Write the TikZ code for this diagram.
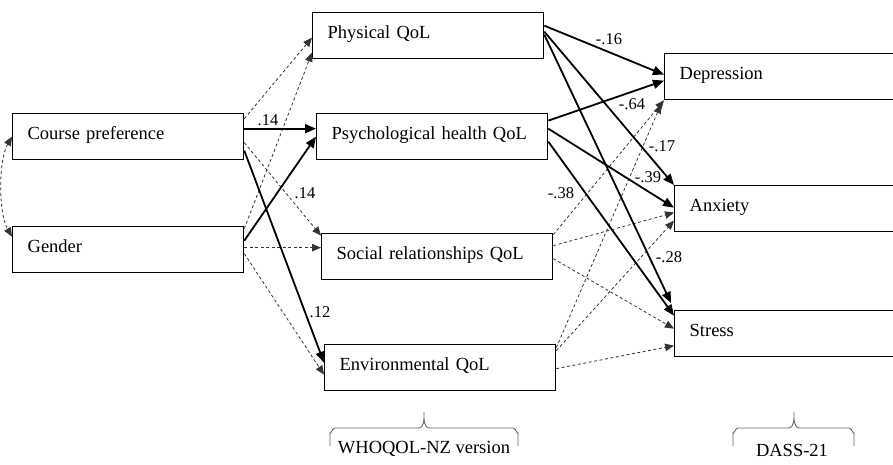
\documentclass[tikz,border=0pt]{standalone}
\usepackage{fontspec}
\setmainfont{Liberation Serif}
\usetikzlibrary{arrows.meta}
\begin{document}
\begin{tikzpicture}[x=1pt, y=-1pt,
	box/.style={draw, line width=1.3pt, rectangle, anchor=north west, minimum height=46pt, text width=#1, align=left, inner xsep=15pt, inner ysep=0pt, text height=13pt, text depth=8pt, font=\fontsize{18.5}{22}\selectfont},
	num/.style={inner sep=0pt, font=\fontsize{16.5}{18}\selectfont},
	effect/.style={line width=1.8pt, -{Triangle[length=11pt, width=9pt]}},
	nonsig/.style={draw=black!80, line width=0.8pt, dash pattern=on 3pt off 2.5pt, -{Triangle[length=9pt, width=7.5pt]}},
	bracket/.style={draw=black!60, line width=0.9pt}]
	\useasboundingbox (0, 0) rectangle (893, 464);
	\clip (0, 0) rectangle (893, 464);
	\node[box=201pt] (cp) at (12, 113) {Course preference};
	\node[box=201pt] (gender) at (12, 226) {Gender};
	\node[box=201pt] (phys) at (312, 12) {Physical QoL};
	\node[box=201pt] (psych) at (316, 113) {Psychological health QoL};
	\node[box=201pt] (social) at (321, 233) {Social relationships QoL};
	\node[box=201pt] (env) at (324, 344) {Environmental QoL};
	\node[box=230pt] (dep) at (664, 53) {Depression};
	\node[box=220pt] (anx) at (674, 185) {Anxiety};
	\node[box=220pt] (stress) at (674, 310) {Stress};
	\draw[nonsig, {Triangle[length=9pt, width=7.5pt]}-{Triangle[length=9pt, width=7.5pt]}] (cp.west) to[out=240, in=120, looseness=0.7] ([yshift=13pt]gender.west);
	\draw[nonsig] ([yshift=18pt]cp.east) -- ([yshift=-2pt]phys.west);
	\draw[nonsig] ([yshift=21pt]gender.east) -- ([yshift=-17pt]phys.west);
	\draw[nonsig] ([yshift=-6pt]cp.east) -- ([yshift=21pt]social.west);
	\draw[nonsig] ([yshift=2pt]gender.east) -- ([yshift=9pt]social.west);
	\draw[nonsig] ([yshift=-4pt]gender.east) -- ([yshift=-7pt]env.west);
	\draw[nonsig] ([yshift=22pt]social.east) -- (dep.south west);
	\draw[nonsig] ([yshift=11pt]social.east) -- ([yshift=-4pt]anx.west);
	\draw[nonsig] ([yshift=-2pt]social.east) -- ([yshift=5pt]stress.west);
	\draw[nonsig] ([yshift=20pt]env.east) -- ([xshift=-3pt, yshift=-4pt]dep.south west);
	\draw[nonsig] ([yshift=17pt]env.east) -- ([yshift=-12pt]anx.west);
	\draw[nonsig] ([yshift=-1pt]env.east) -- ([yshift=-12pt]stress.west);
	\draw[effect] ([yshift=8pt]cp.east) -- ([yshift=8pt]psych.west);
	\draw[effect] ([yshift=9pt]gender.east) -- (psych.west);
	\draw[effect] ([yshift=-14pt]cp.east) -- ([yshift=5pt]env.west);
	\draw[effect] ([yshift=10pt]phys.east) -- ([yshift=2pt]dep.west);
	\draw[effect] ([yshift=4pt]phys.east) -- (anx.north west);
	\draw[effect] ([yshift=1pt]phys.east) -- ([xshift=-3pt, yshift=7pt]stress.north west);
	\draw[effect] ([yshift=16pt]psych.east) -- ([yshift=-4pt]dep.west);
	\draw[effect] ([yshift=8pt]psych.east) -- ([yshift=1pt]anx.west);
	\draw[effect] ([yshift=-5pt]psych.east) -- ([yshift=18pt]stress.west);
	\node[num] (b1) at (268, 120) {.14};
	\node[num] (b2) at (305, 193) {.14};
	\node[num] (b3) at (320, 312) {.12};
	\node[num] (b4) at (609, 39) {-.16};
	\node[num] (b5) at (632, 104) {-.64};
	\node[num] (b6) at (662, 146) {-.17};
	\node[num] (b7) at (648, 177) {-.39};
	\node[num] (b8) at (561, 193) {-.38};
	\node[num] (b9) at (669, 257) {-.28};
	\draw[bracket] (330, 446) -- (330, 433) to[out=-90, in=180] (335, 428) -- (418, 428) to[out=0, in=-90] (424, 412) to[out=-90, in=180] (430, 428) -- (513, 428) to[out=0, in=-90] (518, 433) -- (518, 446);
	\draw[bracket] (733, 446) -- (733, 433) to[out=-90, in=180] (738, 428) -- (788, 428) to[out=0, in=-90] (794, 412) to[out=-90, in=180] (800, 428) -- (849, 428) to[out=0, in=-90] (854, 433) -- (854, 446);
	\node[font=\fontsize{18.5}{22}\selectfont, inner sep=0pt] (who) at (424, 449) {WHOQOL-NZ version};
	\node[font=\fontsize{18.5}{22}\selectfont, inner sep=0pt] (dass) at (792, 450) {DASS-21};
\end{tikzpicture}
\end{document}
